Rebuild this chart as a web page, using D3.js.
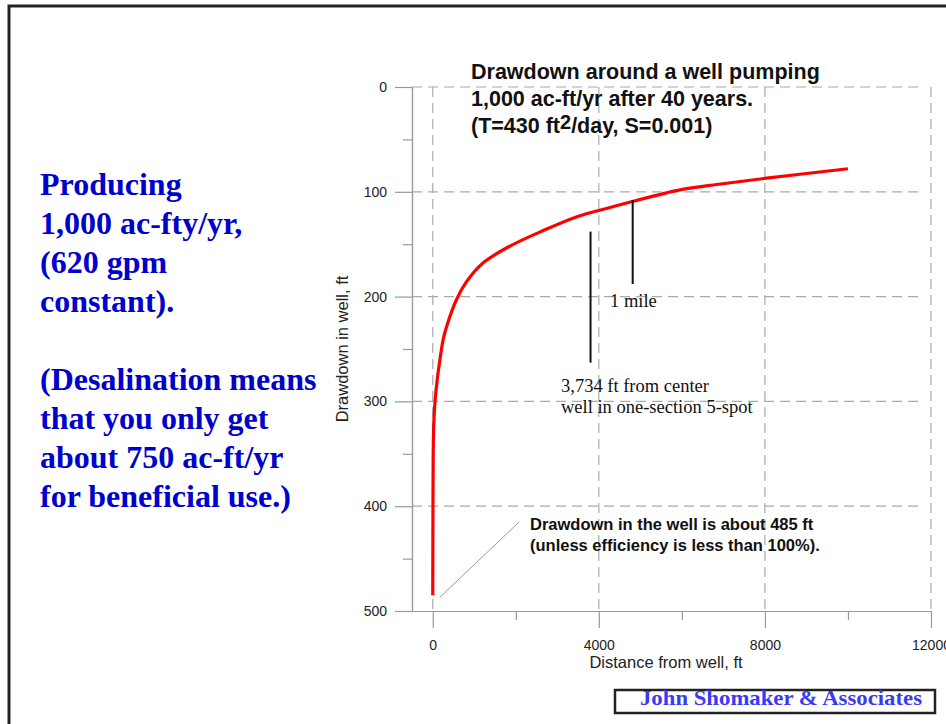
<!DOCTYPE html>
<html>
<head>
<meta charset="utf-8">
<script src="https://cdn.jsdelivr.net/npm/d3@7"></script>
<style>
  body { margin: 0; background: #fff; }
  svg { display: block; }
  .axis path, .axis line { stroke: #999; stroke-width: 1.2; }
  .axis text { font-family: Arial, "Liberation Sans", sans-serif; font-size: 14px; fill: #222; }
  .grid line { stroke: #aaa; stroke-width: 1.2; stroke-dasharray: 10 6; }
</style>
</head>
<body>
<svg id="chart" width="946" height="724"></svg>
<script>
// drawdown curve (distance ft, drawdown ft)
var distanceFt = [0, 5, 10, 25, 55, 105, 170, 250, 330, 570, 810, 1210, 1850, 2660, 3460, 4270, 4830, 5630, 6110, 6840, 8040, 10000];
var drawdownFt = [485, 400, 353, 321, 300, 280, 261, 241, 229, 203, 186, 168, 152, 137, 124, 115, 109, 101, 97, 93, 87, 78];

var yTicks = [0, 100, 200, 300, 400, 500];
var yMinorTicks = [50, 150, 250, 350, 450];
var xTicks = [0, 4000, 8000, 12000];
var xMinorTicks = [2000, 6000, 10000];

var titleLines = ["Drawdown around a well pumping", "1,000 ac-ft/yr after 40 years."];
var sideText = ["Producing", "1,000 ac-fty/yr,", "(620 gpm", "constant).", "",
  "(Desalination means", "that you only get", "about 750 ac-ft/yr", "for beneficial use.)"];
var wellNote = ["Drawdown in the well is about 485 ft", "(unless efficiency is less than 100%)."];
// marker lines: [distance, top drawdown, bottom drawdown]
var markers = [[4815, 108, 188], [3800, 138, 263]];
var mileLabel = ["1 mile"];
var fiveSpotLabel = ["3,734 ft from center", "well in one-section 5-spot"];

(function () {
  "use strict";
  var svg = d3.select('#chart');

  // slide frame
  svg.append('rect')
    .attr('x', 9).attr('y', 6).attr('width', 1000).attr('height', 1000)
    .attr('fill', 'none').attr('stroke', '#222').attr('stroke-width', 3);

  var x = d3.scaleLinear().domain([-500, 12000]).range([412, 931]);
  var y = d3.scaleLinear().domain([0, 500]).range([87, 611]);

  // dashed grid
  var grid = svg.append('g').attr('class', 'grid');
  grid.selectAll('line.h').data(yTicks.slice(0, -1)).enter().append('line')
    .attr('class', 'h')
    .attr('x1', x(-500)).attr('x2', 924)
    .attr('y1', function (d) { return y(d); })
    .attr('y2', function (d) { return y(d); });
  grid.selectAll('line.v').data(xTicks).enter().append('line')
    .attr('class', 'v')
    .attr('x1', function (d) { return x(d); })
    .attr('x2', function (d) { return x(d); })
    .attr('y1', y(0)).attr('y2', y(500));

  // axes
  svg.append('g').attr('class', 'axis')
    .attr('transform', 'translate(' + x(-500) + ',0)')
    .call(d3.axisLeft(y).tickValues(yTicks).tickSize(17).tickSizeOuter(0).tickPadding(8));
  svg.append('g').attr('class', 'axis')
    .attr('transform', 'translate(' + x(-500) + ',0)')
    .call(d3.axisLeft(y).tickValues(yMinorTicks).tickSize(9).tickSizeOuter(0).tickFormat(''));
  svg.append('g').attr('class', 'axis')
    .attr('transform', 'translate(0,' + y(500) + ')')
    .call(d3.axisBottom(x).tickValues(xTicks).tickSize(17).tickSizeOuter(0).tickPadding(12).tickFormat(d3.format('d')));
  svg.append('g').attr('class', 'axis')
    .attr('transform', 'translate(0,' + y(500) + ')')
    .call(d3.axisBottom(x).tickValues(xMinorTicks).tickSize(9).tickSizeOuter(0).tickFormat(''));

  svg.append('text')
    .attr('x', 666).attr('y', 668)
    .attr('text-anchor', 'middle')
    .style('font', '16.5px Arial, "Liberation Sans", sans-serif').style('fill', '#222')
    .text('Distance from well, ft');
  svg.append('text')
    .attr('transform', 'translate(348,' + y(250) + ') rotate(-90)')
    .attr('text-anchor', 'middle')
    .style('font', '16.5px Arial, "Liberation Sans", sans-serif').style('fill', '#222')
    .text('Drawdown in well, ft');

  // drawdown curve
  var pts = distanceFt.map(function (d, i) { return [d, drawdownFt[i]]; });
  svg.append('path')
    .datum(pts)
    .attr('fill', 'none').attr('stroke', '#ff0000').attr('stroke-width', 3.2)
    .attr('stroke-linejoin', 'round')
    .attr('d', d3.line()
      .x(function (d) { return x(d[0]); })
      .y(function (d) { return y(d[1]); })
      .curve(d3.curveCatmullRom.alpha(0.5)));

  // marker lines
  svg.selectAll('line.marker').data(markers).enter().append('line')
    .attr('class', 'marker')
    .attr('x1', function (d) { return x(d[0]); })
    .attr('x2', function (d) { return x(d[0]); })
    .attr('y1', function (d) { return y(d[1]); })
    .attr('y2', function (d) { return y(d[2]); })
    .attr('stroke', '#111').attr('stroke-width', 2);

  var serif = '18.5px "Times New Roman", "Liberation Serif", serif';
  svg.selectAll('text.mile').data(mileLabel).enter().append('text')
    .attr('class', 'mile')
    .attr('x', 610).attr('y', 307)
    .style('font', serif).style('fill', '#111')
    .text(function (d) { return d; });
  svg.selectAll('text.spot').data(fiveSpotLabel).enter().append('text')
    .attr('class', 'spot')
    .attr('x', 561).attr('y', function (d, i) { return 392 + i * 21; })
    .style('font', serif).style('fill', '#111')
    .text(function (d) { return d; });

  // leader line to the well drawdown
  svg.append('line')
    .attr('x1', x(170)).attr('y1', y(487))
    .attr('x2', x(2080)).attr('y2', y(415))
    .attr('stroke', '#999').attr('stroke-width', 1);
  svg.selectAll('text.well').data(wellNote).enter().append('text')
    .attr('class', 'well')
    .attr('x', 530).attr('y', function (d, i) { return 530 + i * 21; })
    .style('font', 'bold 16.5px Arial, "Liberation Sans", sans-serif').style('fill', '#111')
    .text(function (d) { return d; });

  // title
  var tfont = 'bold 21.5px Arial, "Liberation Sans", sans-serif';
  svg.selectAll('text.title').data(titleLines).enter().append('text')
    .attr('class', 'title')
    .attr('x', 471).attr('y', function (d, i) { return 79 + i * 26.5; })
    .style('font', tfont).style('fill', '#111')
    .text(function (d) { return d; });
  var t3 = svg.append('text')
    .attr('x', 471).attr('y', 133)
    .style('font', tfont).style('fill', '#111');
  t3.append('tspan').text('(T=430 ft');
  t3.append('tspan').attr('dy', -4).style('font-size', '20px').text('2');
  t3.append('tspan').attr('dy', 4).text('/day, S=0.001)');

  // left side text
  svg.selectAll('text.side').data(sideText).enter().append('text')
    .attr('class', 'side')
    .attr('x', 40).attr('y', function (d, i) { return 195 + i * 39; })
    .style('font', 'bold 32px "Times New Roman", "Liberation Serif", serif').style('fill', '#0000cc')
    .text(function (d) { return d; });

  // credit box
  svg.append('rect')
    .attr('x', 615).attr('y', 690).attr('width', 320).attr('height', 23)
    .attr('fill', '#fff').attr('stroke', '#222').attr('stroke-width', 2.5);
  svg.append('text')
    .attr('x', 640).attr('y', 705)
    .attr('textLength', 282).attr('lengthAdjust', 'spacingAndGlyphs')
    .style('font', 'bold 21px "Times New Roman", "Liberation Serif", serif').style('fill', '#3a3af5')
    .text('John Shomaker & Associates');
}());
</script>
</body>
</html>
